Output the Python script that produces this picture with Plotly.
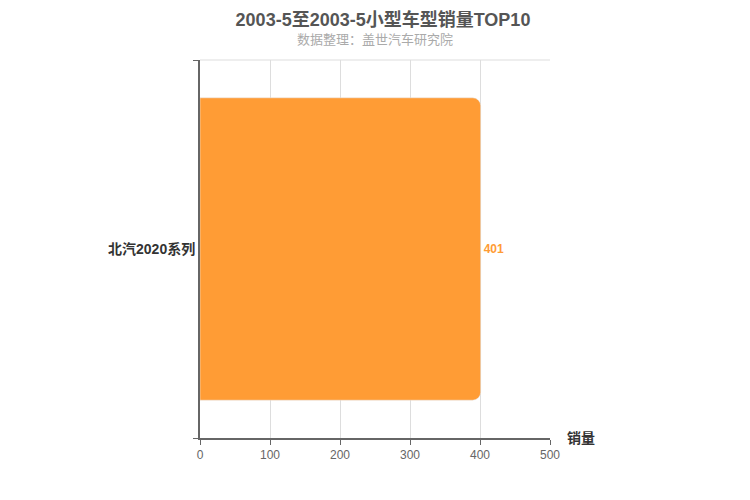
import plotly.graph_objects as go

models = ['北汽2020系列']
sales = [401]
x_ticks = [0, 100, 200, 300, 400, 500]

font_family = 'Liberation Sans, Arial, Noto Sans CJK SC, sans-serif'
bar_color = '#ff9c35'

fig = go.Figure(go.Bar(
    x=sales,
    y=models,
    orientation='h',
    width=0.8,
    marker=dict(color=bar_color, cornerradius=8),
    text=[str(v) for v in sales],
    textposition='outside',
    textfont=dict(color=bar_color, size=12, family=font_family, weight='bold'),
    cliponaxis=False,
    hoverinfo='x+y',
))

fig.update_layout(
    width=750, height=500,
    margin=dict(l=192, r=208, t=52, b=70),
    plot_bgcolor='white',
    paper_bgcolor='white',
    font=dict(family=font_family),
    showlegend=False,
    title=dict(
        text='2003-5至2003-5小型车型销量TOP10',
        x=0.5, xanchor='center', y=0.976, yanchor='middle',
        font=dict(size=18, color='#555555', weight='bold'),
    ),
    annotations=[
        dict(text='数据整理：盖世汽车研究院', xref='paper', yref='paper',
             x=0.5, y=1.0, xanchor='center', yanchor='bottom', yshift=11,
             showarrow=False, font=dict(size=13, color='#aaaaaa')),
        dict(text='销量', xref='paper', yref='paper',
             x=1.0, y=0, xanchor='left', yanchor='middle', xshift=15,
             showarrow=False, font=dict(size=14, color='#333333', weight='bold')),
    ],
    shapes=[
        dict(type='line', xref='paper', yref='paper', x0=0, x1=1, y0=1, y1=1,
             line=dict(color='#dddddd', width=1), layer='below'),
    ],
)

fig.update_xaxes(
    range=[0, 500],
    tickvals=x_ticks,
    showgrid=True, gridcolor='#dddddd', gridwidth=1,
    showline=True, linecolor='#666666', linewidth=2,
    ticks='outside', ticklen=5, tickcolor='#666666',
    tickfont=dict(size=12, color='#666666'),
    zeroline=False,
)

fig.update_yaxes(
    type='category',
    range=[-0.5, 0.5],
    tickson='boundaries',
    showgrid=True, gridcolor='#dddddd',
    showline=True, linecolor='#666666', linewidth=2,
    ticks='outside', ticklen=5, tickcolor='#666666',
    tickfont=dict(size=14, color='#333333', weight='bold'),
    zeroline=False,
)

fig.write_html('out.html')
